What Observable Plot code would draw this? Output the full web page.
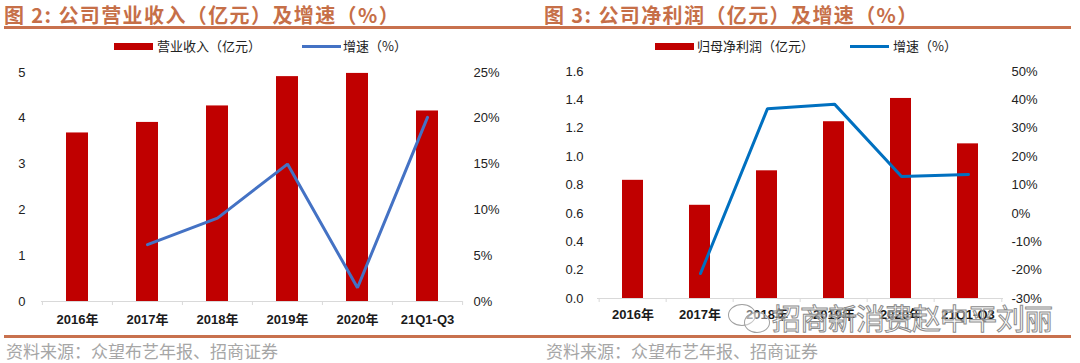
<!DOCTYPE html>
<html>
<head>
<meta charset="utf-8">
<script src="https://cdn.jsdelivr.net/npm/d3@7"></script>
<script src="https://cdn.jsdelivr.net/npm/@observablehq/plot@0.6"></script>
<style>
  body { margin:0; width:1080px; height:363px; background:#fff; position:relative; overflow:hidden;
         font-family:"Liberation Sans","Noto Sans CJK SC",sans-serif; }
  .abs { position:absolute; }
  .title { top:0px; font-size:20px; font-weight:bold; color:#c66f48; font-family:"Noto Sans CJK SC",sans-serif; white-space:nowrap; letter-spacing:1.4px; }
  .rule { left:4px; width:1067px; height:2.5px; background:#c8714e; }
  .leg { font-size:13px; color:#222; font-family:"Noto Sans CJK SC",sans-serif; white-space:nowrap; top:38px; line-height:16px; }
  .sw-bar { top:43px; height:7px; background:#c00000; }
  .sw-line { top:45px; height:3px; }
  .src { top:338px; font-size:17px; color:#a6a6a6; font-family:"Noto Sans CJK SC",sans-serif; white-space:nowrap; }
  .wm { left:772px; top:296px; font-size:29px; font-family:"Noto Sans CJK SC",sans-serif; color:rgba(255,255,255,0.45);
        -webkit-text-stroke:1px #8c8c8c; white-space:nowrap; letter-spacing:-1px; }
</style>
</head>
<body>
<script>
// ---- data ----
const categories = ["2016年","2017年","2018年","2019年","2020年","21Q1-Q3"];
const revenue = [3.68, 3.91, 4.27, 4.91, 4.98, 4.16];          // 营业收入（亿元）
const revenueGrowth = [null, 6.2, 9.1, 15.0, 1.5, 20.1];         // 增速（%）
const netProfit = [0.833, 0.657, 0.90, 1.246, 1.41, 1.09];       // 归母净利润（亿元）
const profitGrowth = [null, -21.2, 36.9, 38.5, 13.0, 13.7];      // 增速（%）
const revTicksL = [0,1,2,3,4,5];
const revTicksR = [0,5,10,15,20,25];
const profTicksL = [0,0.2,0.4,0.6,0.8,1.0,1.2,1.4,1.6];
const profTicksR = [-30,-20,-10,0,10,20,30,40,50];

const W = 540, H = 270;
const fontStyle = {fontSize:"13px", fontFamily:"'Liberation Sans','Noto Sans CJK SC',sans-serif", color:"#222", background:"transparent", overflow:"visible"};

function el(cls, css, text) {
  const d = document.createElement("div");
  d.className = "abs " + cls;
  Object.assign(d.style, css);
  if (text) d.textContent = text;
  document.body.appendChild(d);
  return d;
}

function panel(offset, o) {
  const rows = categories.map((c,i)=>({cat:c, v:o.bars[i], g:o.growth[i]}));
  const step = (W - o.ml - o.mr) / categories.length;
  const xOpts = {domain:categories, paddingInner:0.69, paddingOuter:0.345};
  // bars + left axis + x axis
  const p1 = Plot.plot({
    width:W, height:H, marginLeft:o.ml, marginRight:o.mr, marginTop:o.mt, marginBottom:o.mb,
    style:fontStyle,
    x:{...xOpts, axis:null, label:null},
    y:{domain:o.yDomL, axis:null, label:null},
    marks:[
      Plot.barY(rows, {x:"cat", y:"v", fill:"#c00000"}),
      Plot.ruleY([0], {stroke:"#d9d9d9", strokeWidth:1}),
      Plot.ruleX(categories, {x:d=>d, y1:0, y2:0, dx:-step/2, insetBottom:-4, stroke:"#d9d9d9"}),
      Plot.ruleX(categories.slice(-1), {x:d=>d, y1:0, y2:0, dx:step/2, insetBottom:-4, stroke:"#d9d9d9"}),
      Plot.axisY({ticks:o.ticksL, tickSize:0, tickPadding:o.tpl, tickFormat:o.fmtL, fontSize:13, fill:"#222", label:null}),
      Plot.axisX({tickSize:0, tickPadding:o.tpx, fontWeight:"bold", fontSize:13, fill:"#1a1a1a", label:null})
    ]
  });
  // line + right axis
  const p2 = Plot.plot({
    width:W, height:H, marginLeft:o.ml, marginRight:o.mr, marginTop:o.mt, marginBottom:o.mb,
    style:fontStyle,
    x:{...xOpts, axis:null, label:null},
    y:{domain:o.yDomR, axis:null, label:null},
    marks:[
      Plot.line(rows.filter(d=>d.g!=null), {x:"cat", y:"g", stroke:o.lineColor, strokeWidth:3, strokeLinejoin:"miter"}),
      Plot.axisY({anchor:"right", ticks:o.ticksR, tickSize:0, tickPadding:o.tpr, tickFormat:d=>d+"%", fontSize:13, fill:"#222", label:null})
    ]
  });
  for (const p of [p1,p2]) {
    p.style.position = "absolute";
    p.style.left = offset + "px";
    p.style.top = "60px";
    document.body.appendChild(p);
  }
  // title
  el("title", {left:(offset+4)+"px"}, o.title);
  // legend
  el("sw-bar", {left:(offset+o.leg[0])+"px", width:"39px"});
  el("leg", {left:(offset+o.leg[1])+"px"}, o.legBar);
  el("sw-line", {left:(offset+o.leg[2])+"px", width:"39px", background:o.lineColor});
  el("leg", {left:(offset+o.leg[3])+"px"}, "增速（%）");
  // source
  el("src", {left:(offset+6)+"px"}, "资料来源：众望布艺年报、招商证券");
}

panel(0, {
  title:"图 2: 公司营业收入（亿元）及增速（%）",
  legBar:"营业收入（亿元）",
  bars:revenue, growth:revenueGrowth,
  ml:41, mr:78, mt:12, mb:29,
  yDomL:[0,5], yDomR:[0,25], ticksL:revTicksL, ticksR:revTicksR,
  fmtL:d=>String(d), tpl:16, tpr:11, tpx:13,
  lineColor:"#4472c4",
  leg:[114, 157, 302, 343]
});
panel(540, {
  title:"图 3: 公司净利润（亿元）及增速（%）",
  legBar:"归母净利润（亿元）",
  bars:netProfit, growth:profitGrowth,
  ml:57, mr:77, mt:11, mb:32,
  yDomL:[0,1.6], yDomR:[-30,50], ticksL:profTicksL, ticksR:profTicksR,
  fmtL:d=>d.toFixed(1), tpl:14, tpr:8, tpx:11,
  lineColor:"#0070c0",
  leg:[115, 157, 310, 353]
});

// rules across the page
el("rule", {top:"26px"});
el("rule", {top:"335px"});

// watermark
el("wm", {}, "招商新消费赵中平刘丽");
el("", {left:"728px", top:"304px", width:"26px", height:"20px", border:"1px solid #a0a0a0", borderRadius:"50%", background:"rgba(255,255,255,0.4)"});
el("", {left:"744px", top:"312px", width:"24px", height:"19px", border:"1px solid #a0a0a0", borderRadius:"50%", background:"rgba(255,255,255,0.4)"});
</script>
</body>
</html>
